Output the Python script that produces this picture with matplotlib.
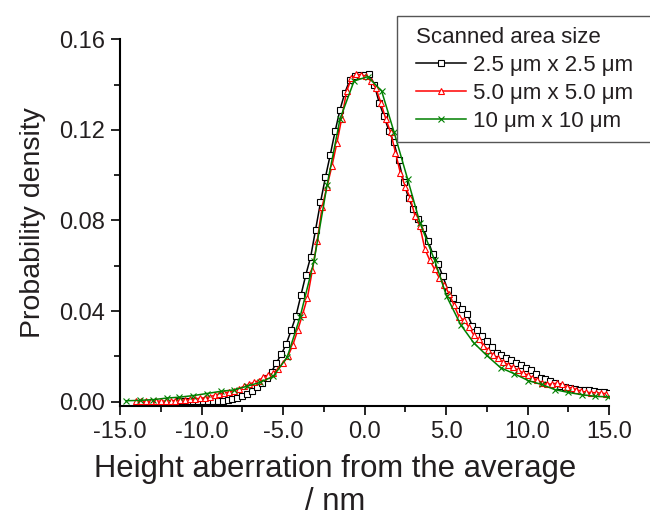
import matplotlib
matplotlib.use("Agg")
import matplotlib.pyplot as plt
from matplotlib.ticker import MultipleLocator, FormatStrFormatter
from matplotlib.patches import Rectangle

plt.rcParams['font.family'] = ['Liberation Sans', 'DejaVu Sans']

# ---- data ----
black_x = [-11.4, -11.1, -10.8, -10.5, -10.2, -9.9, -9.6, -9.3, -9.0, -8.7, -8.4, -8.1,
           -7.8, -7.5, -7.2, -6.9, -6.6, -6.3, -6.0, -5.7, -5.4, -5.1, -4.8, -4.5, -4.2,
           -3.9, -3.6, -3.3, -3.0, -2.7, -2.4, -2.1, -1.8, -1.5, -1.2, -0.9, -0.6, -0.3,
           0.0, 0.3, 0.6, 0.9, 1.2, 1.5, 1.8, 2.1, 2.4, 2.7, 3.0, 3.3, 3.6, 3.9, 4.2, 4.5,
           4.8, 5.1, 5.4, 5.7, 6.0, 6.3, 6.6, 6.9, 7.2, 7.5, 7.8, 8.1, 8.4, 8.7, 9.0, 9.3,
           9.6, 9.9, 10.2, 10.5, 10.8, 11.1, 11.4, 11.7, 12.0, 12.3, 12.6, 12.9, 13.2,
           13.5, 13.8, 14.1, 14.4, 14.7, 15.0]
black_y = [0.0002, 0.0002, 0.0002, 0.0002, 0.0003, 0.0003, 0.0003, 0.0004, 0.0004, 0.0005,
           0.0007, 0.0011, 0.0017, 0.0024, 0.0034, 0.0048, 0.0065, 0.0084, 0.0105, 0.0133,
           0.0172, 0.0210, 0.0255, 0.0315, 0.0380, 0.0470, 0.0560, 0.0640, 0.0760, 0.0880,
           0.0990, 0.1090, 0.1195, 0.1290, 0.1365, 0.1420, 0.1438, 0.1442, 0.1441, 0.1446,
           0.1400, 0.1320, 0.1260, 0.1195, 0.1145, 0.1065, 0.0970, 0.0900, 0.0850, 0.0805,
           0.0765, 0.0710, 0.0650, 0.0610, 0.0555, 0.0495, 0.0460, 0.0428, 0.0410, 0.0388,
           0.0336, 0.0318, 0.0290, 0.0268, 0.0240, 0.0216, 0.0207, 0.0195, 0.0183, 0.0172,
           0.0160, 0.0150, 0.0140, 0.0122, 0.0105, 0.0098, 0.0090, 0.0082, 0.0070, 0.0065,
           0.0060, 0.0055, 0.0052, 0.0050, 0.0050, 0.0047, 0.0044, 0.0042, 0.0040]

red_x = [-14.0, -13.7, -13.4, -13.1, -12.8, -12.5, -12.2, -11.9, -11.6, -11.3, -11.0, -10.7,
         -10.4, -10.1, -9.8, -9.5, -9.2, -8.9, -8.6, -8.3, -8.0, -7.7, -7.4, -7.1, -6.8,
         -6.5, -6.2, -5.9, -5.6, -5.3, -5.0, -4.7, -4.4, -4.1, -3.8, -3.5, -3.2, -2.9,
         -2.6, -2.3, -2.0, -1.7, -1.4, -1.1, -0.8, -0.5, -0.2, 0.1, 0.4, 0.7, 1.0, 1.3,
         1.6, 1.9, 2.2, 2.5, 2.8, 3.1, 3.4, 3.7, 4.0, 4.3, 4.6, 4.9, 5.2, 5.5, 5.8, 6.1,
         6.4, 6.7, 7.0, 7.3, 7.6, 7.9, 8.2, 8.5, 8.8, 9.1, 9.4, 9.7, 10.0, 10.3, 10.6,
         10.9, 11.2, 11.5, 11.8, 12.1, 12.4, 12.7, 13.0, 13.3, 13.6, 13.9, 14.2, 14.5, 14.8]
red_y = [0.0001, 0.0001, 0.0002, 0.0002, 0.0002, 0.0003, 0.0003, 0.0004, 0.0005, 0.0007,
         0.0008, 0.0010, 0.0012, 0.0015, 0.0018, 0.0022, 0.0028, 0.0034, 0.0039, 0.0043,
         0.0048, 0.0058, 0.0068, 0.0077, 0.0085, 0.0093, 0.0108, 0.0118, 0.0126, 0.0145,
         0.0170, 0.0200, 0.0250, 0.0315, 0.0385, 0.0460, 0.0580, 0.0710, 0.0860, 0.0950,
         0.1040, 0.1140, 0.1250, 0.1370, 0.1428, 0.1446, 0.1443, 0.1438, 0.1415, 0.1385,
         0.1320, 0.1250, 0.1190, 0.1100, 0.1010, 0.0950, 0.0900, 0.0820, 0.0775, 0.0675,
         0.0625, 0.0585, 0.0545, 0.0515, 0.0475, 0.0425, 0.0375, 0.0360, 0.0330, 0.0295,
         0.0275, 0.0248, 0.0228, 0.0205, 0.0193, 0.0176, 0.0164, 0.0152, 0.0140, 0.0128,
         0.0118, 0.0106, 0.0096, 0.0083, 0.0077, 0.0078, 0.0082, 0.0076, 0.0067, 0.0060,
         0.0053, 0.0047, 0.0042, 0.0040, 0.0040, 0.0038, 0.0036]

green_x = [-14.63, -13.8, -12.96, -12.14, -11.36, -10.5, -9.68, -8.8, -8.0, -7.23, -6.41,
           -5.6, -4.74, -3.96, -3.1, -2.3, -1.5, -0.64, 0.2, 1.05, 1.81, 2.64, 3.4, 4.3,
           5.04, 5.9, 6.7, 7.5, 8.35, 9.17, 10.05, 10.87, 11.69, 12.5, 13.32, 14.14, 14.96]
green_y = [0.0004, 0.0006, 0.0009, 0.0016, 0.0020, 0.0027, 0.0036, 0.0046, 0.0052, 0.0068,
           0.0085, 0.0112, 0.0197, 0.0372, 0.0620, 0.0955, 0.1249, 0.1416, 0.1435, 0.1372,
           0.1191, 0.0984, 0.0790, 0.0625, 0.0465, 0.0340, 0.0260, 0.0204, 0.0150, 0.0124,
           0.0093, 0.0076, 0.0053, 0.0041, 0.0031, 0.0024, 0.0021]

labels = ["2.5 \u03bcm x 2.5 \u03bcm", "5.0 \u03bcm x 5.0 \u03bcm", "10 \u03bcm x 10 \u03bcm"]
legend_title = "Scanned area size"
x_ticks = [-15.0, -10.0, -5.0, 0.0, 5.0, 10.0, 15.0]
y_ticks = [0.00, 0.04, 0.08, 0.12, 0.16]

# ---- figure ----
W, H = 650, 519
fig = plt.figure(figsize=(W / 100, H / 100), dpi=100)
ax = fig.add_axes([120 / W, 1 - 406 / H, (609 - 120) / W, (406 - 39.3) / H])

ax.plot(black_x, black_y, color='black', lw=1.1, marker='s', ms=4.3, mfc='white',
        mec='black', mew=0.8, label=labels[0], zorder=3)
ax.plot(red_x, red_y, color='#ff0000', lw=1.1, marker='^', ms=4.8, mfc='white',
        mec='#ff0000', mew=0.8, label=labels[1], zorder=4)
ax.plot(green_x, green_y, color='#008000', lw=1.1, marker='x', ms=4.8,
        mec='#008000', mew=0.8, label=labels[2], zorder=5)

ax.set_xlim(-15, 15)
ax.set_ylim(-0.0019, 0.16)
ax.set_xticks(x_ticks)
ax.set_yticks(y_ticks)
ax.xaxis.set_minor_locator(MultipleLocator(2.5))
ax.yaxis.set_minor_locator(MultipleLocator(0.02))
ax.xaxis.set_major_formatter(FormatStrFormatter('%.1f'))
ax.yaxis.set_major_formatter(FormatStrFormatter('%.2f'))

for s in ['top', 'right']:
    ax.spines[s].set_visible(False)
for s in ['left', 'bottom']:
    ax.spines[s].set_linewidth(1.5)
ax.spines['left'].set_bounds(-0.0019, 0.16)

txtc = '#231f20'
ax.tick_params(which='major', direction='out', length=6.5, width=1.2, labelsize=17,
               colors='black', labelcolor=txtc, pad=4)
ax.tick_params(which='minor', direction='out', length=4.3, width=1.2, colors='black')

ax.set_ylabel("Probability density", fontsize=20.5, color=txtc, labelpad=10)
ax.set_xlabel("Height aberration from the average\n/ nm", fontsize=22.3, color=txtc,
              labelpad=8, linespacing=1.1)
ax.xaxis.set_label_coords((335 - 120) / 489, -0.132)
ax.xaxis.label.set_va('top')

# legend frame drawn manually (extends past the right edge as in the reference)
fig.patches.append(Rectangle((397 / W, 1 - 142 / H), (700 - 397) / W, (142 - 15.7) / H,
                             transform=fig.transFigure, fill=True, facecolor='white',
                             edgecolor='#555555', lw=1.0, zorder=10))
leg = ax.legend(title=legend_title, loc='upper left',
                bbox_to_anchor=(416 / W, 1 - 27 / H), bbox_transform=fig.transFigure,
                fontsize=16, title_fontsize=16, alignment='left', frameon=False,
                borderaxespad=0, borderpad=0.0,
                handlelength=2.25, handletextpad=0.3, labelspacing=0.31)
for t in leg.get_texts():
    t.set_color(txtc)
leg.get_title().set_color(txtc)
leg.remove()
fig.legends.append(leg)
leg.set_figure(fig)
leg.set_zorder(11)

fig.savefig("out.png", dpi=100)
